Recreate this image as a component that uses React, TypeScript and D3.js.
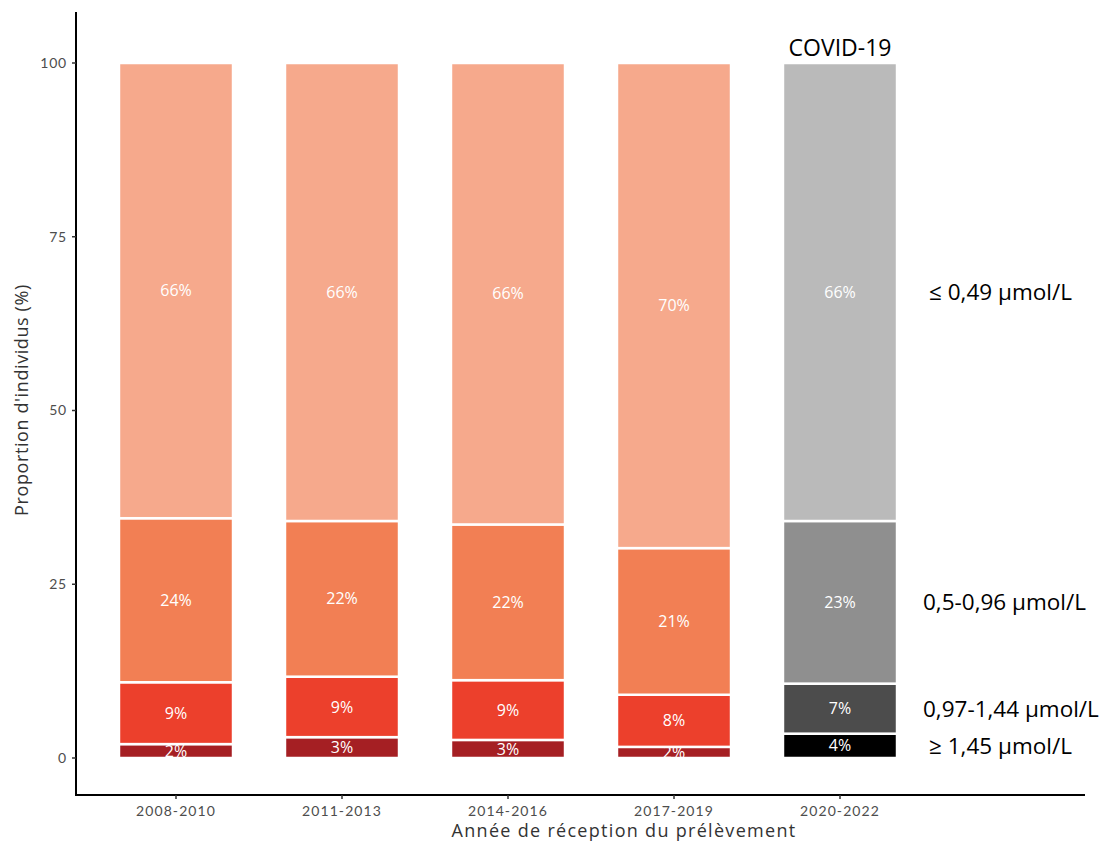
import React from "react";
import * as d3 from "d3";

const periods = ["2008-2010", "2011-2013", "2014-2016", "2017-2019", "2020-2022"];
// values from bottom to top: >=1.45, 0.97-1.44, 0.5-0.96, <=0.49
const vHigh = [2.0, 3.0, 2.6, 1.6, 3.5];
const vMidHigh = [8.9, 8.7, 8.6, 7.5, 7.2];
const vMid = [23.6, 22.4, 22.4, 21.1, 23.4];
const vLow = [65.5, 65.9, 66.4, 69.8, 65.9];
const levelLabels = ["≥ 1,45 µmol/L", "0,97-1,44 µmol/L", "0,5-0,96 µmol/L", "≤ 0,49 µmol/L"];
const yTicks = [0, 25, 50, 75, 100];
const redColors = ["#A51F23", "#EC402C", "#F27F54", "#F6A98C"];
const grayColors = ["#000000", "#4C4C4C", "#8F8F8F", "#BABABA"];

export default function App() {
  const W = 1112, H = 844;
  const y = d3.scaleLinear().domain([0, 100]).range([758, 63]);
  const x = d3.scaleBand<string>().domain(periods).range([93, 923]).paddingInner(0.313).paddingOuter(0.1565);
  const series = [vHigh, vMidHigh, vMid, vLow];
  const rows = periods.map((p, i) => {
    const o: any = { period: p };
    series.forEach((s, k) => (o["k" + k] = s[i]));
    return o;
  });
  const stack = d3.stack<any>().keys(["k0", "k1", "k2", "k3"])(rows);
  const lastIdx = periods.length - 1;
  const axisX = 76, axisY = 795;
  const sans = "'Open Sans', 'Noto Sans', sans-serif";
  return (
    <svg width={W} height={H} style={{ position: "absolute", left: 0, top: 0, background: "#fff" }}>
      {stack.map((layer, k) =>
        layer.map((d, i) => {
          const col = i === lastIdx ? grayColors[k] : redColors[k];
          const x0 = x(periods[i])!;
          const y0 = y(d[1]);
          const y1 = y(d[0]);
          return (
            <g key={k + "-" + i}>
              <rect x={x0} y={y0} width={x.bandwidth()} height={y1 - y0} fill={col} stroke="#fff" strokeWidth={2.5} />
              <text x={x0 + x.bandwidth() / 2} y={(y0 + y1) / 2} dy="0.35em" textAnchor="middle" fill="#fff"
                fontFamily={sans} fontSize={16}>
                {Math.round(d[1] - d[0]) + "%"}
              </text>
            </g>
          );
        })
      )}
      {stack.map((layer, k) => {
        const d = layer[lastIdx];
        const sym = levelLabels[k].startsWith("≤") || levelLabels[k].startsWith("≥");
        return (
          <text key={"lab" + k} x={sym ? 929 : 923} y={(y(d[0]) + y(d[1])) / 2} dy="0.35em" fill="#000"
            fontFamily={sans} fontSize={22.5}>
            {levelLabels[k]}
          </text>
        );
      })}
      <text x={x(periods[lastIdx])! + x.bandwidth() / 2} y={48} dy="0.35em" textAnchor="middle" fill="#000"
        fontFamily={sans} fontSize={23}>COVID-19</text>
      <line x1={axisX} x2={axisX} y1={12} y2={axisY + 1} stroke="#000" strokeWidth={2} />
      <line x1={axisX - 1} x2={1085} y1={axisY} y2={axisY} stroke="#000" strokeWidth={2} />
      {yTicks.map((t) => (
        <g key={"yt" + t}>
          <line x1={axisX - 4} x2={axisX} y1={y(t)} y2={y(t)} stroke="#333" strokeWidth={1.5} />
          <text x={axisX - 9} y={y(t)} dy="0.35em" textAnchor="end" fill="#4d4d4d"
            fontFamily="Lato, sans-serif" fontSize={14} letterSpacing={0.8}>{t}</text>
        </g>
      ))}
      {periods.map((p) => {
        const cx = x(p)! + x.bandwidth() / 2;
        return (
          <g key={"xt" + p}>
            <line x1={cx} x2={cx} y1={axisY} y2={axisY + 4} stroke="#333" strokeWidth={1.5} />
            <text x={cx} y={axisY + 16} dy="0.35em" textAnchor="middle" fill="#4d4d4d"
              fontFamily="Lato, sans-serif" fontSize={14} letterSpacing={1.1}>{p}</text>
          </g>
        );
      })}
      <text transform={`translate(22,400) rotate(-90)`} textAnchor="middle" dy="0.35em" fill="#333"
        fontFamily={sans} fontSize={18} letterSpacing={0.6}>Proportion d'individus (%)</text>
      <text x={624} y={831} dy="0.35em" textAnchor="middle" fill="#333"
        fontFamily={sans} fontSize={18} letterSpacing={1.3}>Année de réception du prélèvement</text>
    </svg>
  );
}
